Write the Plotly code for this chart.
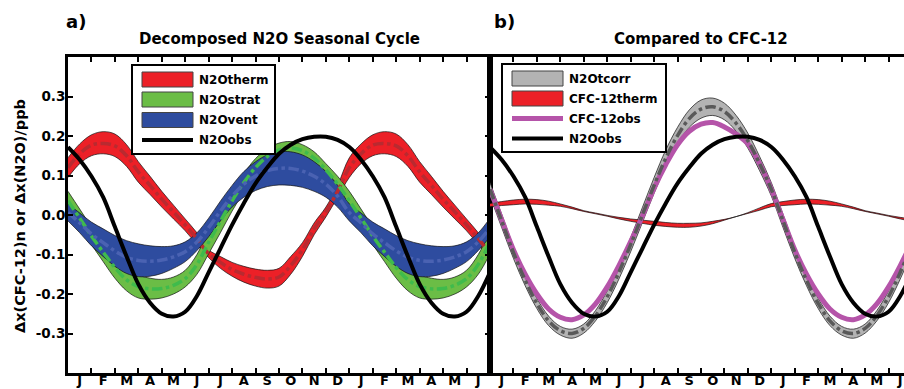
import plotly.graph_objects as go

# ---------------- data (one annual cycle, every half month from Jan 1) ----------------
MONTHS = ["J", "F", "M", "A", "M", "J", "J", "A", "S", "O", "N", "D"]
N_SPAN = 18          # months shown in each panel
STEP = 0.5           # sampling step of the cycles below (months)

# N2Otherm band (upper / lower / centre), ppb
N2OTHERM_HI = [0.145, 0.180, 0.203, 0.211, 0.205, 0.178, 0.135, 0.098, 0.060, 0.025, -0.010, -0.045,
               -0.088, -0.105, -0.120, -0.130, -0.137, -0.140, -0.135, -0.105, -0.070, -0.020, 0.020, 0.075]
N2OTHERM_LO = [0.095, 0.130, 0.150, 0.155, 0.148, 0.123, 0.083, 0.052, 0.020, -0.010, -0.040, -0.075,
               -0.108, -0.135, -0.155, -0.170, -0.180, -0.185, -0.180, -0.150, -0.105, -0.050, -0.005, 0.045]
N2OTHERM_MID = [0.120, 0.155, 0.177, 0.181, 0.175, 0.150, 0.109, 0.075, 0.040, 0.008, -0.025, -0.060,
                -0.098, -0.120, -0.138, -0.150, -0.158, -0.162, -0.157, -0.128, -0.088, -0.035, 0.008, 0.060]
# N2Ostrat band
N2OSTRAT_HI = [0.060, 0.015, -0.030, -0.070, -0.105, -0.135, -0.152, -0.160, -0.163, -0.157, -0.140, -0.100,
               -0.040, 0.012, 0.062, 0.105, 0.143, 0.168, 0.182, 0.186, 0.178, 0.160, 0.130, 0.098]
N2OSTRAT_LO = [0.012, -0.030, -0.075, -0.118, -0.160, -0.192, -0.210, -0.213, -0.210, -0.200, -0.182, -0.150,
               -0.098, -0.045, 0.010, 0.058, 0.098, 0.128, 0.148, 0.155, 0.148, 0.128, 0.098, 0.058]
N2OSTRAT_MID = [0.036, -0.008, -0.053, -0.094, -0.133, -0.164, -0.181, -0.187, -0.186, -0.178, -0.161, -0.125,
                -0.069, -0.016, 0.036, 0.082, 0.120, 0.148, 0.165, 0.170, 0.163, 0.144, 0.114, 0.078]
# N2Ovent band
N2OVENT_HI = [0.028, 0.005, -0.018, -0.035, -0.052, -0.065, -0.073, -0.078, -0.080, -0.078, -0.068, -0.045,
              -0.008, 0.035, 0.075, 0.110, 0.135, 0.152, 0.160, 0.160, 0.152, 0.135, 0.110, 0.075]
N2OVENT_LO = [-0.015, -0.045, -0.078, -0.105, -0.130, -0.148, -0.156, -0.155, -0.148, -0.135, -0.118, -0.090,
              -0.055, -0.015, 0.020, 0.045, 0.062, 0.072, 0.076, 0.075, 0.070, 0.060, 0.045, 0.020]
N2OVENT_MID = [0.006, -0.020, -0.048, -0.070, -0.091, -0.107, -0.115, -0.117, -0.114, -0.106, -0.093, -0.068,
               -0.032, 0.010, 0.048, 0.078, 0.099, 0.112, 0.118, 0.118, 0.111, 0.098, 0.078, 0.048]
# N2Oobs
N2OOBS = [0.172, 0.140, 0.098, 0.045, -0.030, -0.105, -0.175, -0.222, -0.250, -0.257, -0.245, -0.205,
          -0.145, -0.085, -0.025, 0.030, 0.080, 0.120, 0.155, 0.178, 0.192, 0.198, 0.198, 0.190]
# N2Otcorr band
N2OTCORR_HI = [0.082, 0.002, -0.080, -0.151, -0.211, -0.256, -0.282, -0.289, -0.276, -0.242, -0.192, -0.128,
               -0.057, 0.019, 0.095, 0.165, 0.222, 0.266, 0.291, 0.296, 0.283, 0.252, 0.207, 0.148]
N2OTCORR_LO = [0.048, -0.032, -0.110, -0.179, -0.237, -0.280, -0.304, -0.312, -0.299, -0.268, -0.222, -0.162,
               -0.093, -0.019, 0.055, 0.123, 0.180, 0.222, 0.245, 0.252, 0.241, 0.212, 0.169, 0.112]
N2OTCORR_MID = [0.065, -0.015, -0.095, -0.165, -0.224, -0.268, -0.293, -0.300, -0.287, -0.255, -0.207, -0.145,
                -0.075, 0.000, 0.075, 0.144, 0.201, 0.244, 0.268, 0.274, 0.262, 0.232, 0.188, 0.130]
# CFC-12therm band
CFC12THERM_HI = [0.029, 0.034, 0.038, 0.040, 0.039, 0.035, 0.028, 0.020, 0.011, 0.005, -0.001, -0.006,
                 -0.010, -0.013, -0.016, -0.019, -0.021, -0.021, -0.020, -0.016, -0.011, -0.004, 0.006, 0.018]
CFC12THERM_LO = [0.021, 0.024, 0.026, 0.028, 0.027, 0.025, 0.022, 0.016, 0.009, 0.003, -0.003, -0.010,
                 -0.016, -0.021, -0.026, -0.029, -0.031, -0.031, -0.028, -0.022, -0.013, -0.004, 0.004, 0.012]
# CFC-12obs
CFC12OBS = [0.065, -0.012, -0.088, -0.150, -0.200, -0.238, -0.259, -0.265, -0.253, -0.225, -0.182, -0.128,
            -0.067, -0.003, 0.068, 0.128, 0.178, 0.212, 0.230, 0.234, 0.223, 0.205, 0.180, 0.130]

Y_TICKS = [-0.3, -0.2, -0.1, 0.0, 0.1, 0.2, 0.3]
Y_TICKTEXT = ["-0.3", "-0.2", "-0.1", "0.0", "0.1", "0.2", "0.3"]

# ---------------- helpers ----------------
N_PTS = int(N_SPAN / STEP) + 1
X = [i * STEP for i in range(N_PTS)]
PER = len(N2OOBS)


def tile(cycle):
    return [cycle[i % PER] for i in range(N_PTS)]


W, H = 904, 389
ML, MR, MT, MB = 68, 0, 57, 16
PW, PH = W - ML - MR, H - MT - MB
SPLIT = 490


def px(x):
    return (x - ML) / PW


def py(y):
    return (H - MB - y) / PH


FONT = "DejaVu Sans"
RED, RED_C = "#ec2027", "#b92a30"
GREEN, GREEN_C = "#6bbd46", "#3fbb4c"
BLUE, BLUE_C = "#2e4c9f", "#4a62b2"
GRAY, GRAY_C = "#b3b3b3", "#595959"
MAGENTA = "#b554a9"

fig = go.Figure()


def band(lo, hi, color, xa, ya):
    fig.add_trace(go.Scatter(x=X, y=tile(lo), mode="lines", line=dict(color="#111", width=0.7, shape="spline"),
                             xaxis=xa, yaxis=ya, showlegend=False, hoverinfo="skip"))
    fig.add_trace(go.Scatter(x=X, y=tile(hi), mode="lines", line=dict(color="#111", width=0.7, shape="spline"),
                             fill="tonexty", fillcolor=color, xaxis=xa, yaxis=ya, showlegend=False,
                             hoverinfo="skip"))


def line(vals, color, width, xa, ya, dash="solid"):
    fig.add_trace(go.Scatter(x=X, y=tile(vals), mode="lines",
                             line=dict(color=color, width=width, dash=dash, shape="spline"),
                             xaxis=xa, yaxis=ya, showlegend=False))


# panel a
band(N2OTHERM_LO, N2OTHERM_HI, RED, "x", "y")
band(N2OSTRAT_LO, N2OSTRAT_HI, GREEN, "x", "y")
band(N2OVENT_LO, N2OVENT_HI, BLUE, "x", "y")
line(N2OTHERM_MID, RED_C, 3.5, "x", "y", "dashdot")
line(N2OSTRAT_MID, GREEN_C, 3.5, "x", "y", "dashdot")
line(N2OVENT_MID, BLUE_C, 3.5, "x", "y", "dashdot")
line(N2OOBS, "black", 4, "x", "y")

# panel b
band(N2OTCORR_LO, N2OTCORR_HI, GRAY, "x2", "y2")
band(CFC12THERM_LO, CFC12THERM_HI, RED, "x2", "y2")
line(CFC12OBS, MAGENTA, 5, "x2", "y2")
line(N2OTCORR_MID, GRAY_C, 3.5, "x2", "y2", "dashdot")
line(N2OOBS, "black", 4, "x2", "y2")

# ---------------- axes ----------------
month_labels = [MONTHS[k % 12] for k in range(N_SPAN)]
month_pos = [k + 0.5 for k in range(N_SPAN)]
month_edges = list(range(1, N_SPAN + 1))
tickfont = dict(family=FONT, size=13, color="black", weight="bold")

xcommon = dict(tickmode="array", tickvals=month_pos, ticktext=month_labels, ticks="",
               showline=True, linecolor="black", linewidth=3, mirror="ticks", showgrid=False,
               zeroline=False, tickfont=tickfont, fixedrange=True, automargin=False,
               ticklabelstandoff=-7,
               minor=dict(tickmode="array", tickvals=month_edges, ticks="inside", ticklen=5,
                          tickwidth=2, tickcolor="black", showgrid=False))
d_split = px(SPLIT)
fig.update_layout(
    template="none",
    xaxis=dict(domain=[0, d_split], range=[0, N_SPAN], anchor="y", **xcommon),
    xaxis2=dict(domain=[d_split, 1], range=[0, (W - SPLIT) / ((SPLIT - ML) / N_SPAN)], anchor="y2", **xcommon),
    yaxis=dict(domain=[0, 1], range=[-0.4, 0.4], tickmode="array", tickvals=Y_TICKS, ticktext=Y_TICKTEXT,
               ticks="inside", ticklen=5, tickwidth=2, tickcolor="black", showline=True, linecolor="black",
               linewidth=3, mirror="ticks", showgrid=False, zeroline=False, automargin=False,
               ticklabelstandoff=-3,
               tickfont=dict(family=FONT, size=13.5, color="black", weight="bold"), anchor="x"),
    yaxis2=dict(domain=[0, 1], range=[-0.4, 0.4], showticklabels=False, ticks="", showline=True,
                linecolor="black", linewidth=3, mirror=False, showgrid=False, zeroline=False, anchor="x2",
                automargin=False),
    width=W, height=H, margin=dict(l=ML, r=MR, t=MT, b=MB, pad=0, autoexpand=False),
    paper_bgcolor="white", plot_bgcolor="white", showlegend=False,
)

# ---------------- text ----------------
ann = []


def text(s, x, y, size, xanchor="center", angle=0):
    ann.append(dict(text=s, x=px(x), y=py(y), xref="paper", yref="paper", showarrow=False,
                    xanchor=xanchor, yanchor="middle", textangle=angle,
                    font=dict(family=FONT, size=size, color="black", weight="bold")))


text("a)", 64, 21, 18, "left")
text("b)", 492, 21, 18, "left")
text("Decomposed N2O Seasonal Cycle", 279, 39, 15)
text("Compared to CFC-12", 701, 39, 15)
text("\u0394x(CFC-12)n or \u0394x(N2O)/ppb", 20, 216, 14.5, angle=-90)

shapes = []


def rect(x0, y0, x1, y1, fill, lc="black", lw=2):
    shapes.append(dict(type="rect", xref="paper", yref="paper", x0=px(x0), x1=px(x1), y0=py(y1), y1=py(y0),
                       fillcolor=fill, line=dict(color=lc, width=lw), layer="above"))


def hline(x0, x1, y, color, w):
    shapes.append(dict(type="line", xref="paper", yref="paper", x0=px(x0), x1=px(x1), y0=py(y), y1=py(y),
                       line=dict(color=color, width=w), layer="above"))


# legend a
rect(132, 65, 275, 154, "white")
legend_a = [("N2Otherm", RED, "band"), ("N2Ostrat", GREEN, "band"), ("N2Ovent", BLUE, "band"),
            ("N2Oobs", "black", "line")]
rows_a = [79.5, 99.5, 120, 140]
for (name, col, kind), ry in zip(legend_a, rows_a):
    if kind == "band":
        rect(142, ry - 7.5, 193, ry + 7.5, col, "#444", 1)
    else:
        hline(142, 193, ry, col, 4)
    text(name, 197, ry, 12, "left")

# legend b
rect(502, 64, 666, 152, "white")
legend_b = [("N2Otcorr", GRAY, "band"), ("CFC-12therm", RED, "band"), ("CFC-12obs", MAGENTA, "line"),
            ("N2Oobs", "black", "line")]
rows_b = [78.5, 98.5, 118.5, 138.5]
for (name, col, kind), ry in zip(legend_b, rows_b):
    if kind == "band":
        rect(512, ry - 7.5, 563, ry + 7.5, col, "#444", 1)
    else:
        hline(512, 563, ry, col, 5 if col == MAGENTA else 4)
    text(name, 567, ry, 12, "left")

fig.update_layout(annotations=ann, shapes=shapes)
fig.write_html("out.html", config={"displayModeBar": False},
               post_script="document.body.style.margin='0';document.body.style.overflow='hidden';")
